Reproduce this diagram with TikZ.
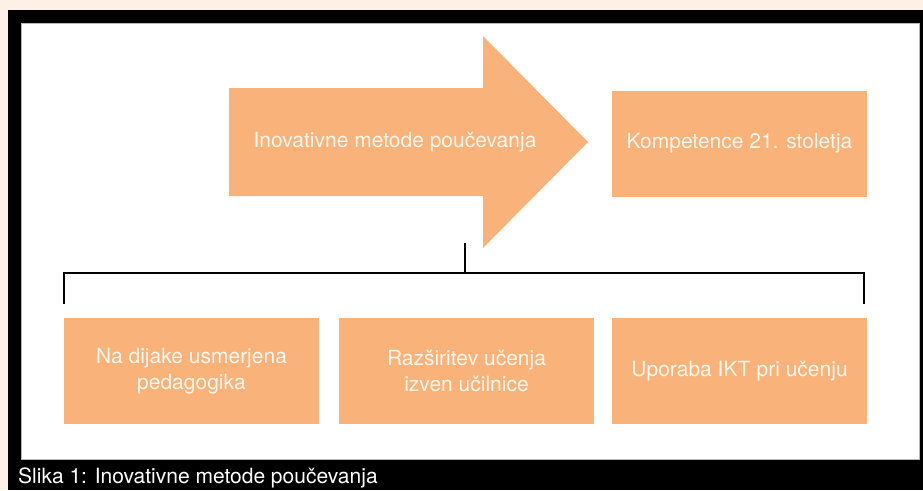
\documentclass[tikz,border=0pt]{standalone}
\usepackage{fontspec}
\setmainfont{TeX Gyre Heros}
\definecolor{cream}{RGB}{253,240,230}
\definecolor{boxorange}{RGB}{248,178,122}
\definecolor{txt}{RGB}{255,247,238}
\begin{document}
\begin{tikzpicture}[x=1pt,y=-1pt,
  box/.style={fill=boxorange, draw=none, text=txt, font=\fontsize{21}{26}\selectfont,
    align=center, inner sep=0pt, minimum width=255pt, minimum height=106pt},
  bracket/.style={draw=black, line width=2.3pt, line join=miter},
  lbl/.style={text=txt, font=\fontsize{21}{26}\selectfont, inner sep=0pt}]
\fill[cream] (0,0) rectangle (923,490);
\useasboundingbox (0,0) rectangle (923,490);
\fill[black] (8,9.5) rectangle (923,490);
\filldraw[fill=white, draw=gray!55, line width=0.8pt] (21,23) rectangle (919,459);
% big arrow
\fill[boxorange] (229,88) -- (483,88) -- (483,36) -- (588,142) -- (483,248) -- (483,196) -- (229,196) -- cycle;
\node[lbl] (arrowtext) at (395,142) {Inovativne metode poučevanja};
% top right box
\node[box] (komp) at (739.5,143.5) {Kompetence 21. stoletja};
% bottom boxes
\node[box] (b1) at (191.5,371) {Na dijake usmerjena\\pedagogika};
\node[box] (b2) at (466.5,371) {Razširitev učenja\\izven učilnice};
\node[box] (b3) at (739.5,371) {Uporaba IKT pri učenju};
% bracket
\coordinate (stem) at (465,243);
\coordinate (hub) at (465,273);
\coordinate (hl) at (63.7,273);
\coordinate (hr) at (864,273);
\coordinate (lt) at (63.7,304);
\coordinate (rt) at (864,304);
\draw[bracket] (lt) -- (hl) -- (hr) -- (rt);
\draw[bracket] (stem) -- (hub);
% caption
\node[anchor=base west, text=white, font=\fontsize{21}{26}\selectfont, inner sep=0pt] (caption) at (18,483) {Slika 1: Inovativne metode poučevanja};
\end{tikzpicture}
\end{document}
